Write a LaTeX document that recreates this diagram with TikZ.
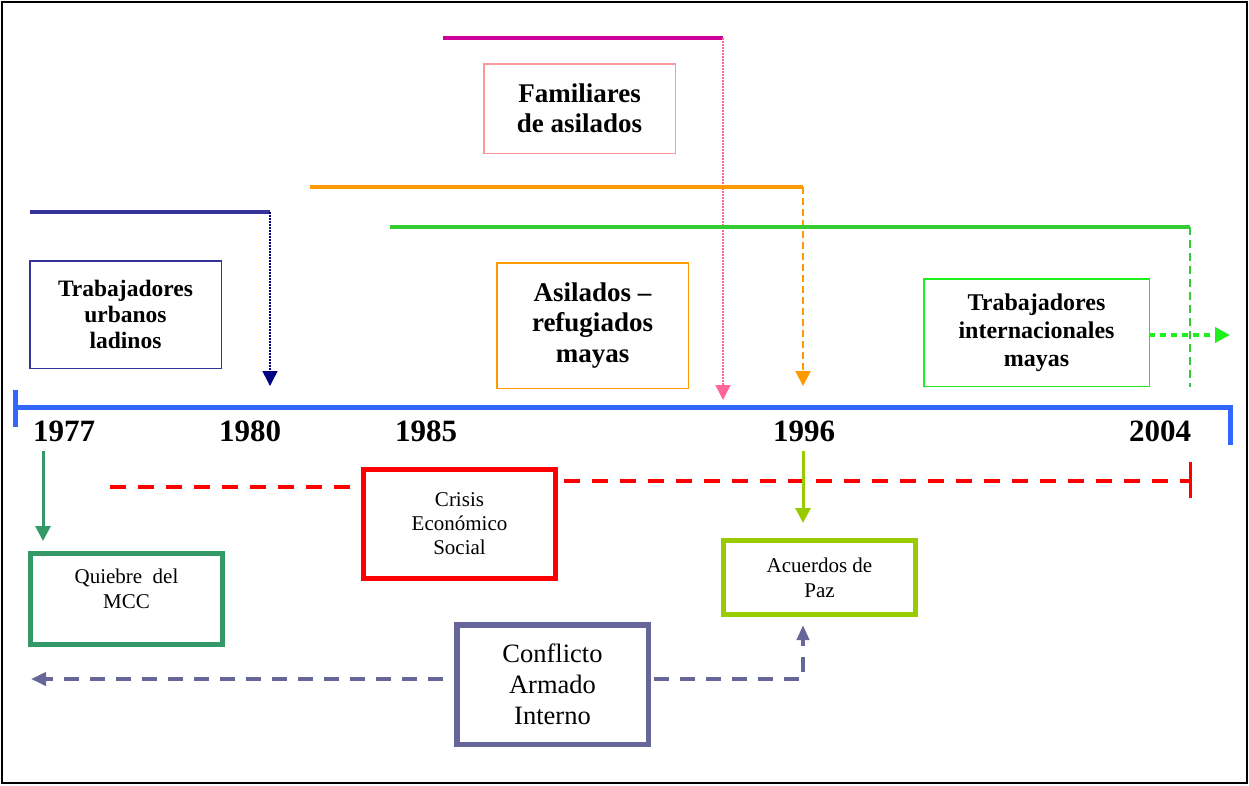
\documentclass[tikz,border=0pt]{standalone}
\usepackage{fontspec}
\setmainfont{Liberation Serif}
\usetikzlibrary{arrows.meta}

\definecolor{urbanblue}{RGB}{51,51,153}
\definecolor{urbannavy}{RGB}{0,0,128}
\definecolor{famline}{RGB}{204,0,153}
\definecolor{famdot}{RGB}{255,102,153}
\definecolor{fambox}{RGB}{255,153,153}
\definecolor{asilorange}{RGB}{255,153,0}
\definecolor{intline}{RGB}{51,204,51}
\definecolor{intbox}{RGB}{30,240,30}
\definecolor{axisblue}{RGB}{51,102,255}
\definecolor{mccgreen}{RGB}{51,153,102}
\definecolor{pazgreen}{RGB}{153,204,0}
\definecolor{armpurple}{RGB}{102,102,153}

\begin{document}
\begin{tikzpicture}[
		x = 1pt, y = -1pt,
		every node/.style = {align = center, inner sep = 0pt, outer sep = 0pt},
		topbox/.style = {draw, line width = 1.5pt},
		botbox/.style = {draw, line width = 5pt, font = \fontsize{21}{25}\selectfont},
		year/.style = {anchor = base, font = \fontsize{31}{31}\selectfont\bfseries},
		bar/.style = {line width = 4pt},
		tip/.style = {-{Triangle[width = 15pt, length = 15pt]}},
		reddash/.style = {red, line width = 4pt, dash pattern = on 16pt off 12pt},
		armdash/.style = {armpurple, line width = 4pt, dash pattern = on 15pt off 11pt},
		]

	\useasboundingbox (0,0) rectangle (1249,785);
	\draw[line width = 2pt] (2,2) rectangle (1247,783);

	\draw[axisblue, line width = 5pt] (15,390) -- (15,427) (15,407) -- (1230,407) -- (1230,445);
	\node[year] (y1977) at (64,441) {1977};
	\node[year] (y1980) at (250,441) {1980};
	\node[year] (y1985) at (426,441) {1985};
	\node[year] (y1996) at (804,441) {1996};
	\node[year] (y2004) at (1160,441) {2004};

	\coordinate (urbA) at (30,212);
	\coordinate (urbB) at (270,212);
	\coordinate (urbT) at (270,386);
	\draw[bar, urbanblue] (urbA) -- (urbB);
	\draw[tip, urbannavy, line width = 1.5pt, dash pattern = on 1.5pt off 1.5pt] (urbB) -- (urbT);
	\node[topbox, draw = urbanblue, minimum width = 191.5pt, minimum height = 107.5pt,
		font = \fontsize{23.5}{26}\selectfont\bfseries] (urbanos) at (125.5,314.5) {Trabajadores\\urbanos\\ladinos};

	\coordinate (famA) at (443,38);
	\coordinate (famB) at (723,38);
	\coordinate (famT) at (723,400);
	\draw[bar, famline] (famA) -- (famB);
	\draw[tip, famdot, line width = 1.5pt, dash pattern = on 1.5pt off 1.5pt] (famB) -- (famT);
	\node[topbox, draw = fambox, minimum width = 191.5pt, minimum height = 89.5pt,
		font = \fontsize{27}{30}\selectfont\bfseries] (familiares) at (579.5,108.5) {Familiares\\de asilados};

	\coordinate (asiA) at (310,187);
	\coordinate (asiB) at (803,187);
	\coordinate (asiT) at (803,386);
	\draw[bar, asilorange] (asiA) -- (asiB);
	\draw[tip, asilorange, line width = 2pt, dash pattern = on 7pt off 4pt] (asiB) -- (asiT);
	\node[topbox, draw = asilorange, minimum width = 191.5pt, minimum height = 125.5pt,
		font = \fontsize{27}{30.5}\selectfont\bfseries] (asilados) at (592.5,325.5) {Asilados –\\refugiados\\mayas};

	\coordinate (intA) at (390,227);
	\coordinate (intB) at (1190,227);
	\coordinate (intC) at (1190,387);
	\coordinate (intT) at (1230,335);
	\draw[bar, intline] (intA) -- (intB);
	\draw[intline, line width = 2.5pt, dash pattern = on 8pt off 5pt] (intB) -- (intC);
	\node[topbox, draw = intbox, minimum width = 225.5pt, minimum height = 107.5pt,
		font = \fontsize{24}{28}\selectfont\bfseries] (internacionales) at (1036.5,332.5) {Trabajadores\\internacionales\\mayas};
	\draw[tip, intbox, line width = 4pt, dash pattern = on 6pt off 5pt] (internacionales.east |- intT) -- (intT);

	\node[botbox, draw = mccgreen, minimum width = 192pt, minimum height = 91pt] (quiebre) at (126.5,599) {Quiebre~ del\\MCC\\[-12pt]\strut};
	\coordinate (mccTop) at (43,451);
	\draw[tip, mccgreen, line width = 3pt, shorten >= 12.5pt] (mccTop) -- (mccTop |- quiebre.north);

	\node[botbox, draw = red, minimum width = 192pt, minimum height = 109pt, font = \fontsize{21}{24}\selectfont] (crisis) at (459.5,524) {Crisis\\Económico\\Social};
	\coordinate (crisL) at (110,487);
	\coordinate (crisR) at (1190,481);
	\draw[reddash, shorten >= 13.5pt] (crisL) -- (crisL -| crisis.west);
	\draw[reddash, shorten <= 8.5pt] (crisis.east |- crisR) -- (crisR);
	\draw[red, line width = 3pt] (crisR) ++(0,-19) -- ++(0,36);

	\node[botbox, draw = pazgreen, minimum width = 192pt, minimum height = 74pt] (acuerdos) at (819.5,577.5) {Acuerdos de\\Paz};
	\coordinate (pazTop) at (803,451);
	\draw[tip, pazgreen, line width = 3pt, shorten >= 17.5pt] (pazTop) -- (pazTop |- acuerdos.north);

	\node[botbox, draw = armpurple, line width = 5.5pt, minimum width = 191.5pt, minimum height = 119.5pt,
		font = \fontsize{26.5}{31}\selectfont] (conflicto) at (552.5,684.5) {Conflicto\\Armado\\Interno};
	\coordinate (armL) at (31,679);
	\coordinate (armR) at (803,679);
	\draw[armdash, -{Triangle[width = 13pt, length = 15pt]}, shorten <= 13.75pt] (armL -| conflicto.west) -- (armL);
	\draw[armdash, -{Triangle[width = 12pt, length = 15pt]}, shorten <= 6pt, shorten >= 10.5pt] (conflicto.east |- armR) -- (armR) -- (armR |- acuerdos.south);

\end{tikzpicture}
\end{document}
